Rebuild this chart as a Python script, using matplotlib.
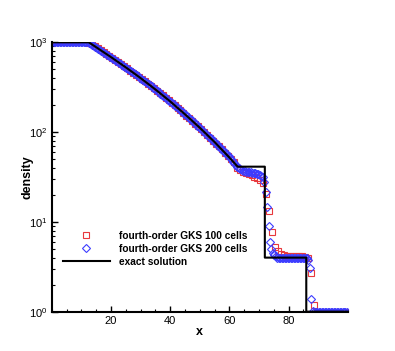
import matplotlib
matplotlib.use('Agg')
import matplotlib.pyplot as plt
from matplotlib.ticker import MultipleLocator, FixedLocator, LogLocator, NullFormatter
import numpy as np

plt.rcParams['font.family'] = ['Liberation Sans', 'DejaVu Sans']

# exact solution
exact_x = [0, 12.5, 15, 20, 25, 30, 35, 40, 45, 50, 55, 60, 62.8, 72, 72, 86, 86, 100]
exact_rho = [1000, 1000, 883, 685, 527, 400, 299, 220, 158, 112, 77.6, 52.2, 41.2, 41.2, 4.0, 4.0, 1.0, 1.0]

# fourth-order GKS, 100 cells (cell centres 0.5 ... 99.5)
x100 = np.arange(100) * 1.0 + 0.5
rho100 = ([1000.0] * 12 + [990.0] +
          [952, 906, 861, 818, 778, 740, 703, 668, 634, 601, 570, 542, 513, 485, 459,
           435, 411, 388, 366, 346, 327, 308, 290, 273, 256, 241, 226, 213, 200, 187,
           175, 164, 153, 143, 133, 124, 116, 108, 100, 93.3, 86.7, 80.5, 74.6, 69.2,
           64.0, 59.2, 54.6, 50.1, 46.0] +
          [39.5, 37.5, 36, 35, 34, 33, 32, 31, 29.5, 26.9] +
          [20.6, 13.2, 7.7, 5.3, 4.7, 4.4, 4.25] +
          [4.15] * 6 + [4.1, 3.95, 2.68, 1.19] +
          [1.0] * 11)

# fourth-order GKS, 200 cells (cell centres 0.25 ... 99.75)
x200 = np.arange(200) * 0.5 + 0.25
rho200 = ([1000.0] * 25 + [985.0] +
          [963, 940, 917, 895, 872, 850, 828, 808, 788, 768, 749, 731, 712, 694,
           677, 659, 643, 625, 609, 593, 578, 562, 549, 535, 520, 506, 492, 478,
           465, 453, 441, 429, 417, 405, 394, 382, 372, 361, 351, 341, 332, 322,
           313, 303, 294, 286, 277, 269, 260, 252, 245, 237, 230, 222, 216, 209,
           203, 197, 190, 184, 178, 172, 167, 161, 156, 150, 145, 141, 135, 131,
           126, 122, 118, 114, 110, 106, 102, 98.2, 95.0, 91.6, 88.3, 85.1, 82.0,
           79.0, 76.0, 73.2, 70.5, 67.9, 65.2, 62.8, 60.3, 58.1, 55.6, 53.6, 51.1,
           49.1, 47.0, 45.1, 43.2, 41.0] +
          [39.5, 38.5, 37.8, 37.2, 36.8, 36.4, 36.1, 35.8, 35.5, 35.2, 34.9, 34.6,
           34.2, 33.8, 33.3, 32.6, 31.5] +
          [28, 21.7, 14.8, 8.9, 5.9, 4.95, 4.5, 4.25, 4.12] +
          [3.97] * 20 + [3.95, 3.8, 3.1, 1.4, 1.03] +
          [1.0] * 23)

fig = plt.figure(figsize=(3.95, 3.51), dpi=100)
ax = fig.add_axes([0.1309, 0.112, 0.7494, 0.7675])

ax.plot(x100, rho100, 's', ms=4.0, mfc='none', mec='#e8383d', mew=0.8,
        label='fourth-order GKS 100 cells')
ax.plot(x200, rho200, 'D', ms=3.9, mfc='none', mec='#3c3cff', mew=0.8,
        label='fourth-order GKS 200 cells')
ax.plot(exact_x, exact_rho, 'k-', lw=1.5, label='exact solution')

ax.set_yscale('log')
ax.set_xlim(0, 100)
ax.set_ylim(1, 1000)

ax.xaxis.set_major_locator(FixedLocator([20, 40, 60, 80]))
ax.xaxis.set_minor_locator(MultipleLocator(5))
ax.yaxis.set_major_locator(LogLocator(base=10))
ax.yaxis.set_minor_locator(LogLocator(base=10, subs=np.arange(2, 10)))
ax.yaxis.set_minor_formatter(NullFormatter())

ax.tick_params(which='major', direction='in', length=4.5, width=1.0, labelsize=8, pad=3)
ax.tick_params(which='minor', direction='in', length=2.5, width=0.8)
for s in ['top', 'right']:
    ax.spines[s].set_visible(False)
for s in ['left', 'bottom']:
    ax.spines[s].set_linewidth(1.5)

ax.set_xlabel('x', fontsize=9, fontweight='bold', labelpad=0)
ax.set_ylabel('density', fontsize=9, fontweight='bold', labelpad=-3)

ax.legend(loc='upper left', bbox_to_anchor=(0.038, 0.30), frameon=False,
          handlelength=4.6, handletextpad=0.9, labelspacing=0.3,
          borderpad=0, borderaxespad=0, prop={'weight': 'bold', 'size': 7.3})

fig.savefig('out.png', dpi=100)
